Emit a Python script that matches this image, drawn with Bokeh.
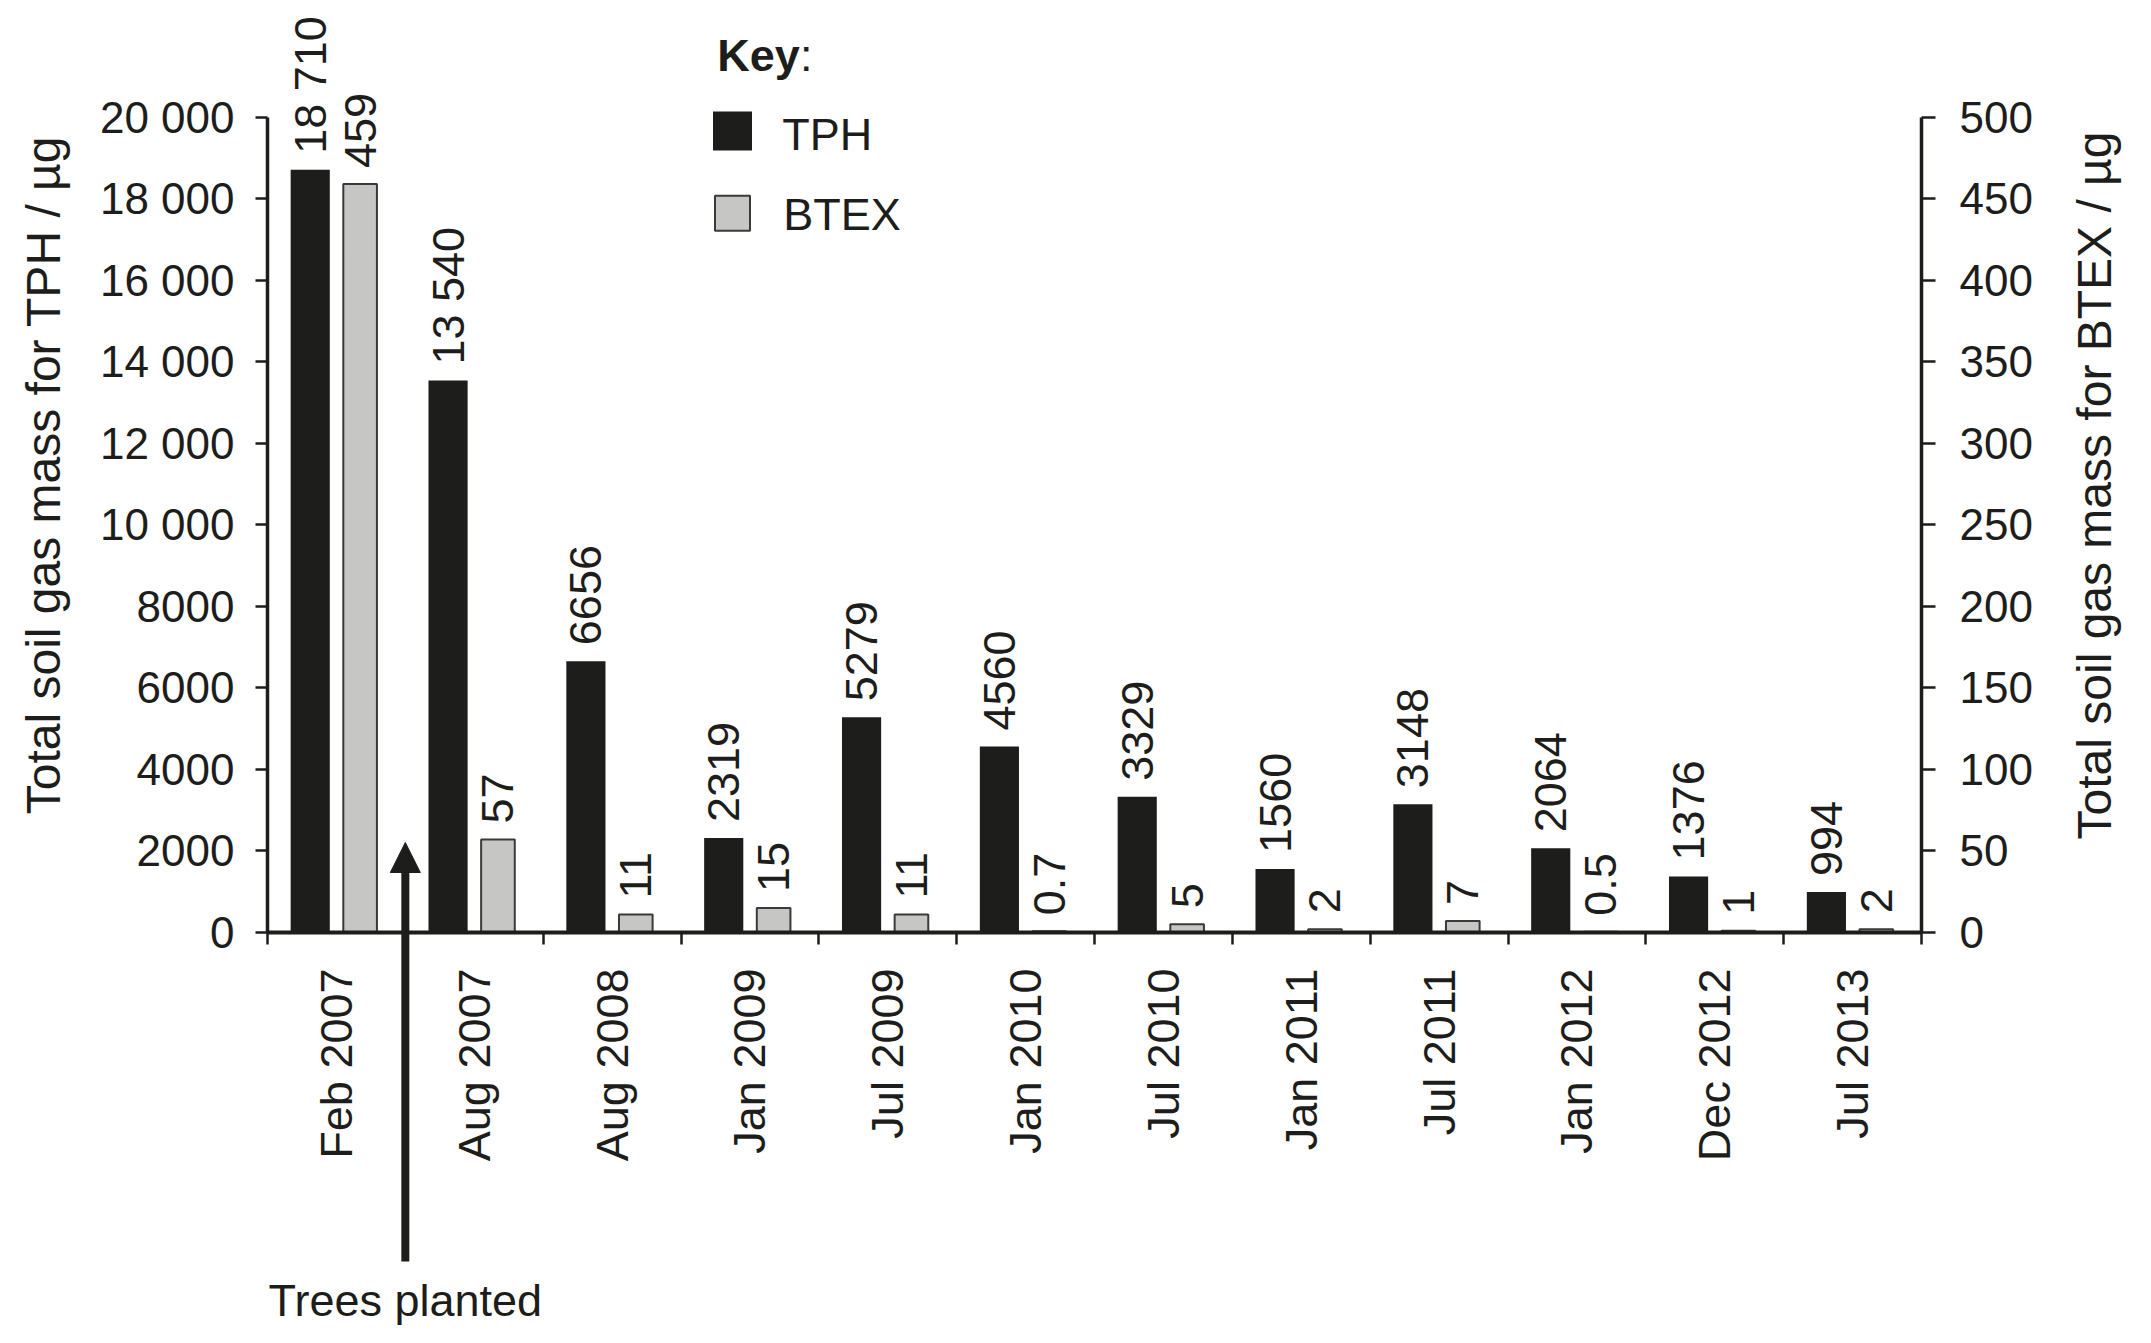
import math
from bokeh.plotting import figure
from bokeh.models import (Range1d, LinearAxis, FixedTicker, Arrow, NormalHead,
                          Label, ColumnDataSource)
from bokeh.core.properties import value
from bokeh.embed import file_html
from bokeh.resources import INLINE

# ---------------- data ----------------
dates = ["Feb 2007", "Aug 2007", "Aug 2008", "Jan 2009", "Jul 2009", "Jan 2010",
         "Jul 2010", "Jan 2011", "Jul 2011", "Jan 2012", "Dec 2012", "Jul 2013"]
tph = [18710, 13540, 6656, 2319, 5279, 4560, 3329, 1560, 3148, 2064, 1376, 994]
btex = [459, 57, 11, 15, 11, 0.7, 5, 2, 7, 0.5, 1, 2]
tph_ticks = [0, 2000, 4000, 6000, 8000, 10000, 12000, 14000, 16000, 18000, 20000]
tph_tick_labels = ["0", "2000", "4000", "6000", "8000", "10 000", "12 000",
                   "14 000", "16 000", "18 000", "20 000"]
btex_ticks = [0, 50, 100, 150, 200, 250, 300, 350, 400, 450, 500]
tph_axis_title = "Total soil gas mass for TPH / µg"
btex_axis_title = "Total soil gas mass for BTEX / µg"
annotation_text = "Trees planted"
planting_boundary = 1  # between Feb 2007 and Aug 2007

# ---------------- layout ----------------
W, H = 2151, 1343
FL, FR, FB = 267, 1921, 932          # plot-area left / right / baseline (px)
N = len(dates)
TPH_MAX, BTEX_MAX = 20000, 500
AXIS_TOP_PX = 116.7                   # where 20 000 / 500 sits
TPH_TOP = TPH_MAX * FB / (FB - AXIS_TOP_PX)
BTEX_TOP = BTEX_MAX * FB / (FB - AXIS_TOP_PX)


def dx(px):
    return (px - FL) * N / (FR - FL)


def dy(py):
    return (FB - py) * TPH_TOP / FB


def dyb(py):
    return (FB - py) * BTEX_TOP / FB


INK = "#1d1d1b"
GREY = "#c6c6c4"
EDGE = "#3a3a39"
FONT = "Liberation Sans"
GAP_PX = 16


def fmt(v):
    return f"{v:,}".replace(",", " ") if v >= 10000 else f"{v:g}"


p = figure(width=W, height=H, title=None,
           x_range=Range1d(dx(0), dx(W)), y_range=Range1d(dy(H), dy(0)),
           output_backend="svg", toolbar_location=None,
           min_border=0, min_border_left=0, min_border_right=0,
           min_border_top=0, min_border_bottom=0,
           background_fill_color="white", border_fill_color="white")
p.outline_line_color = None
p.xgrid.visible = False
p.ygrid.visible = False
p.extra_y_ranges = {"btex": Range1d(dyb(H), dyb(0))}

# ---------------- bars ----------------
tph_src = ColumnDataSource(dict(
    x=[i + 0.5 - 0.19 for i in range(N)], top=tph,
    ly=[v + GAP_PX * TPH_TOP / FB for v in tph], txt=[fmt(v) for v in tph]))
btex_src = ColumnDataSource(dict(
    x=[i + 0.5 + 0.172 for i in range(N)], top=btex,
    ly=[v + GAP_PX * BTEX_TOP / FB for v in btex], txt=[fmt(v) for v in btex]))

p.vbar(x="x", top="top", bottom=0, width=0.284, source=tph_src,
       fill_color=INK, line_color=None)
p.vbar(x="x", top="top", bottom=0, width=0.244, source=btex_src,
       y_range_name="btex", fill_color=GREY, line_color=EDGE, line_width=2)

p.text(x="x", y="ly", text="txt", source=tph_src, angle=math.pi / 2,
       text_align="left", text_baseline="middle", text_font=value(FONT),
       text_font_size="45px", text_color=INK)
p.text(x="x", y="ly", text="txt", source=btex_src, y_range_name="btex",
       angle=math.pi / 2, text_align="left", text_baseline="middle",
       text_font=value(FONT), text_font_size="45px", text_color=INK)

# ---------------- axes (drawn at fixed data locations) ----------------
xa = p.xaxis[0]
xa.fixed_location = 0
xa.ticker = FixedTicker(ticks=[i + 0.5 for i in range(N)], minor_ticks=list(range(N + 1)))
xa.major_label_overrides = {i + 0.5: d for i, d in enumerate(dates)}
xa.major_label_orientation = math.pi / 2
xa.major_tick_out = 0
xa.major_tick_in = 0
xa.minor_tick_out = 12
xa.minor_tick_in = 0
xa.minor_tick_line_width = 2.5
xa.minor_tick_line_color = INK
xa.major_label_standoff = 24
xa.bounds = (0, N)
xa.axis_line_width = 4
xa.axis_line_color = INK
xa.major_label_text_font = FONT
xa.major_label_text_font_size = "45px"
xa.major_label_text_color = INK

ya = p.yaxis[0]
ya.fixed_location = 0
ya.ticker = FixedTicker(ticks=tph_ticks, minor_ticks=[])
ya.major_label_overrides = dict(zip(tph_ticks, tph_tick_labels))
ya.bounds = (0, TPH_MAX)
ya.major_tick_out = 12
ya.major_tick_in = 0
ya.major_tick_line_width = 2.5
ya.major_tick_line_color = INK
ya.minor_tick_line_color = None
ya.axis_line_width = 3.5
ya.axis_line_color = INK
ya.major_label_standoff = 21
ya.major_label_text_font = FONT
ya.major_label_text_font_size = "44px"
ya.major_label_text_color = INK

ra = LinearAxis(y_range_name="btex",
                ticker=FixedTicker(ticks=btex_ticks, minor_ticks=[]))
ra.fixed_location = N
ra.bounds = (0, BTEX_MAX)
ra.major_tick_out = 14
ra.major_tick_in = 0
ra.major_tick_line_width = 2.5
ra.major_tick_line_color = INK
ra.minor_tick_line_color = None
ra.axis_line_width = 3.5
ra.axis_line_color = INK
ra.major_label_standoff = 24
ra.major_label_text_font = FONT
ra.major_label_text_font_size = "44px"
ra.major_label_text_color = INK
p.add_layout(ra, "right")

# axis titles
p.text(x=[dx(43)], y=[dy(474.5)], text=[tph_axis_title], angle=math.pi / 2,
       text_align="center", text_baseline="alphabetic", text_font=value(FONT),
       text_font_size="48px", text_color=INK)
p.text(x=[dx(2094)], y=[dy(485)], text=[btex_axis_title], angle=math.pi / 2,
       text_align="center", text_baseline="alphabetic", text_font=value(FONT),
       text_font_size="48px", text_color=INK)

# ---------------- key ----------------
p.rect(x=[dx(732)], y=[dy(130.5)], width=39, height=39, width_units="screen",
       height_units="screen", fill_color=INK, line_color=None)
p.rect(x=[dx(732)], y=[dy(212.7)], width=35, height=35, width_units="screen",
       height_units="screen", fill_color=GREY, line_color=EDGE, line_width=2)
p.add_layout(Label(x=dx(716.7), y=dy(54.5), text="Key", text_font=FONT,
                   text_font_style="bold", text_font_size="45px", text_color=INK,
                   text_align="left", text_baseline="alphabetic"))
p.add_layout(Label(x=dx(799.5), y=dy(54.5), text=":", text_font=FONT,
                   text_font_size="45px", text_color=INK,
                   text_align="left", text_baseline="alphabetic"))
p.add_layout(Label(x=dx(781.7), y=dy(133.5), text="TPH", text_font=FONT,
                   text_font_size="45px", text_color=INK,
                   text_align="left", text_baseline="alphabetic"))
p.add_layout(Label(x=dx(782.7), y=dy(214), text="BTEX", text_font=FONT,
                   text_font_size="45px", text_color=INK,
                   text_align="left", text_baseline="alphabetic"))

# ---------------- annotation ----------------
p.add_layout(Arrow(end=NormalHead(size=30, fill_color=INK, line_color=INK, line_width=1),
                   x_start=planting_boundary, y_start=dy(1261),
                   x_end=planting_boundary, y_end=dy(842),
                   line_width=8, line_color=INK))
p.add_layout(Label(x=planting_boundary, y=dy(1300), text=annotation_text,
                   text_font=FONT, text_font_size="45px", text_color=INK,
                   text_align="center", text_baseline="alphabetic"))

open("out.html", "w").write(file_html(p, INLINE))
